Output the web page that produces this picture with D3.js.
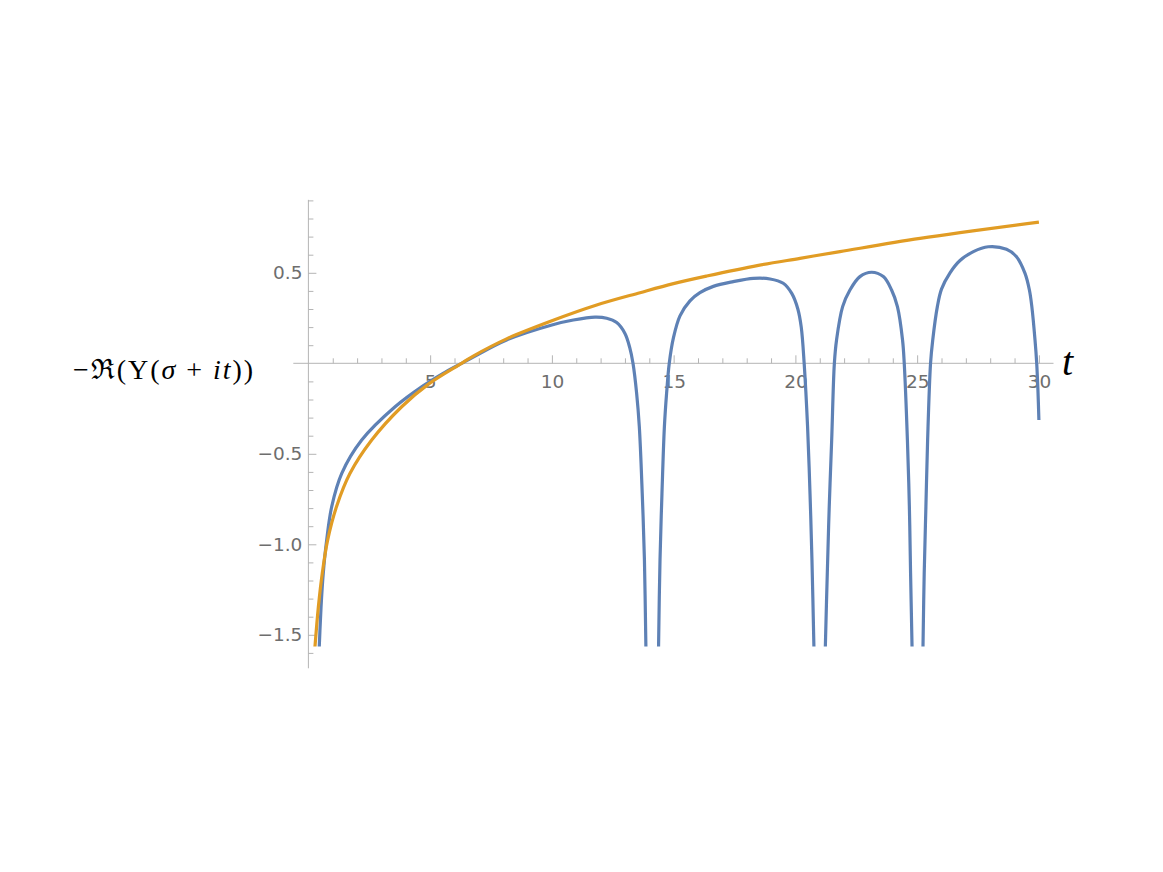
<!DOCTYPE html>
<html>
<head>
<meta charset="utf-8">
<script src="https://cdn.jsdelivr.net/npm/d3@7"></script>
<style>
  body { margin: 0; background: #fff; }
  .tick text { font-family: "DejaVu Sans", "Liberation Sans", sans-serif; font-size: 18.5px; fill: #6e6e6e; }
  .math { font-family: "Liberation Serif", "DejaVu Serif", serif; fill: #000; }
</style>
</head>
<body>
<div id="plot"></div>
<script>
// values (null = curve runs off to -infinity)
const blueT = [0.42, 0.52, 0.61, 0.75, 0.96, 1.37, 2.19, 3.56, 4.65, 5.5, 6.29, 6.77, 8.14, 10, 10.88, 11.77, 12.25, 12.66, 13.0, 13.2, 13.33, 13.48, 13.59, 13.71, 13.8, 13.86, 13.9,
  14.13,
  14.36, 14.38, 14.44, 14.52, 14.62, 14.71, 14.82, 14.99, 15.26, 15.67, 16.08, 16.63, 17.45, 18.27, 18.96, 19.5, 19.85, 20.1, 20.24, 20.36, 20.5, 20.6, 20.68, 20.76, 20.8,
  21.02,
  21.2, 21.23, 21.31, 21.39, 21.49, 21.6, 21.69, 21.94, 22.24, 22.65, 23.13, 23.61, 23.95, 24.19, 24.4, 24.47, 24.6, 24.68, 24.73, 24.79, 24.82,
  25.01,
  25.21, 25.24, 25.29, 25.36, 25.43, 25.55, 25.64, 25.83, 26.0, 26.35, 26.76, 27.31, 27.92, 28.67, 29.08, 29.43, 29.61, 29.71, 29.84, 29.91, 29.96, 30.0];
const blueV = [-1.65, -1.345, -1.16, -0.977, -0.79, -0.608, -0.424, -0.24, -0.13, -0.058, 0.0, 0.035, 0.129, 0.212, 0.239, 0.255, 0.249, 0.225, 0.165, 0.085, 0.0, -0.166, -0.35, -0.72, -1.086, -1.565, -1.8,
  null,
  -1.8, -1.565, -1.086, -0.72, -0.35, -0.166, 0.0, 0.14, 0.262, 0.345, 0.39, 0.425, 0.451, 0.469, 0.466, 0.442, 0.386, 0.30, 0.20, 0.0, -0.35, -0.72, -1.086, -1.565, -1.8,
  null,
  -1.8, -1.565, -1.16, -0.79, -0.424, 0.0, 0.129, 0.313, 0.405, 0.479, 0.503, 0.479, 0.405, 0.313, 0.129, 0.0, -0.424, -0.79, -1.16, -1.565, -1.8,
  null,
  -1.8, -1.565, -1.16, -0.79, -0.424, 0.0, 0.129, 0.313, 0.41, 0.50, 0.568, 0.617, 0.644, 0.63, 0.589, 0.497, 0.405, 0.313, 0.129, 0.0, -0.147, -0.313];

const orangeT = [0.25, 0.41, 0.57, 0.79, 1.16, 1.71, 2.6, 3.83, 4.93, 6.29, 6.77, 8.14, 10, 11.84, 13.62, 14.99, 16.36, 18.48, 20.19, 21.83, 25.12, 30];
const orangeV = [-1.6, -1.345, -1.16, -0.977, -0.79, -0.608, -0.424, -0.24, -0.115, 0, 0.04, 0.135, 0.235, 0.322, 0.39, 0.44, 0.482, 0.541, 0.58, 0.617, 0.69, 0.78];

const xMajor = [5, 10, 15, 20, 25, 30];
const xMinor = [1, 2, 3, 4, 6, 7, 8, 9, 11, 12, 13, 14, 16, 17, 18, 19, 21, 22, 23, 24, 26, 27, 28, 29];
const yMajor = [-1.5, -1.0, -0.5, 0.5];
const yMinor = [-1.6, -1.4, -1.3, -1.2, -1.1, -0.9, -0.8, -0.7, -0.6, -0.4, -0.3, -0.2, -0.1, 0.1, 0.2, 0.3, 0.4, 0.6, 0.7, 0.8, 0.9];
const xAxisExtent = [-0.62, 30.6];
const yAxisExtent = [-1.685, 0.903];
const plotRangeY = [-1.565, 0.903];

const width = 1163, height = 872;
const axisColor = "#b4b4b4";

const x = d3.scaleLinear().domain([0, 30]).range([308.4, 1038.9]);
const y = d3.scaleLinear().domain([-1.5, 0.5]).range([634.8, 272.8]);

const svg = d3.select("#plot").append("svg")
  .attr("width", width)
  .attr("height", height);

// axis lines
svg.append("line")
  .attr("x1", x(xAxisExtent[0])).attr("x2", x(xAxisExtent[1]))
  .attr("y1", y(0)).attr("y2", y(0))
  .attr("stroke", axisColor);
svg.append("line")
  .attr("x1", x(0)).attr("x2", x(0))
  .attr("y1", y(yAxisExtent[0])).attr("y2", y(yAxisExtent[1]))
  .attr("stroke", axisColor);

// x ticks point up, labels below
const xMinorAxis = svg.append("g").attr("transform", `translate(0,${y(0)})`)
  .call(d3.axisBottom(x).tickValues(xMinor).tickSize(-5).tickFormat(""));
const xMajorAxis = svg.append("g").attr("transform", `translate(0,${y(0)})`)
  .call(d3.axisBottom(x).tickValues(xMajor).tickSize(-8).tickPadding(12).tickFormat(d3.format("d")));

// y ticks point right, labels left
const yMinorAxis = svg.append("g").attr("transform", `translate(${x(0)},0)`)
  .call(d3.axisLeft(y).tickValues(yMinor).tickSize(-5).tickFormat(""));
const yMajorAxis = svg.append("g").attr("transform", `translate(${x(0)},0)`)
  .call(d3.axisLeft(y).tickValues(yMajor).tickSize(-8).tickPadding(6)
    .tickFormat(d => (d < 0 ? "\u2212" : "") + d3.format(".1f")(Math.abs(d))));

[xMinorAxis, xMajorAxis, yMinorAxis, yMajorAxis].forEach(g => {
  g.select(".domain").remove();
  g.selectAll("line").attr("stroke", axisColor);
  g.selectAll("text").attr("font-family", null).attr("font-size", null);
});

// clip to plot range
svg.append("clipPath").attr("id", "clip")
  .append("rect")
  .attr("x", x(xAxisExtent[0])).attr("width", x(xAxisExtent[1]) - x(xAxisExtent[0]))
  .attr("y", y(plotRangeY[1])).attr("height", y(plotRangeY[0]) - y(plotRangeY[1]));

const line = d3.line()
  .defined(d => d.v !== null)
  .x(d => x(d.t))
  .y(d => y(d.v))
  .curve(d3.curveCatmullRom.alpha(0.5));

const blue = blueT.map((t, i) => ({t, v: blueV[i]}));
const orange = orangeT.map((t, i) => ({t, v: orangeV[i]}));

const curves = svg.append("g").attr("clip-path", "url(#clip)");
curves.append("path").datum(blue)
  .attr("d", line).attr("fill", "none")
  .attr("stroke", "#5E81B5").attr("stroke-width", 3.2).attr("stroke-linejoin", "round");
curves.append("path").datum(orange)
  .attr("d", line).attr("fill", "none")
  .attr("stroke", "#E19C24").attr("stroke-width", 3.2).attr("stroke-linejoin", "round");

// axis labels
const yl = svg.append("text").attr("class", "math")
  .attr("x", 73).attr("y", 379).attr("font-size", 28)
  .attr("textLength", 180).attr("lengthAdjust", "spacing");
yl.append("tspan").text("\u2212\u211C(\u03A5(");
yl.append("tspan").attr("font-style", "italic").text("\u03C3");
yl.append("tspan").text(" + ");
yl.append("tspan").attr("font-style", "italic").text("it");
yl.append("tspan").text("))");

svg.append("text").attr("class", "math")
  .attr("x", 1062).attr("y", 375)
  .attr("font-size", 40).attr("font-style", "italic")
  .text("t");
</script>
</body>
</html>
